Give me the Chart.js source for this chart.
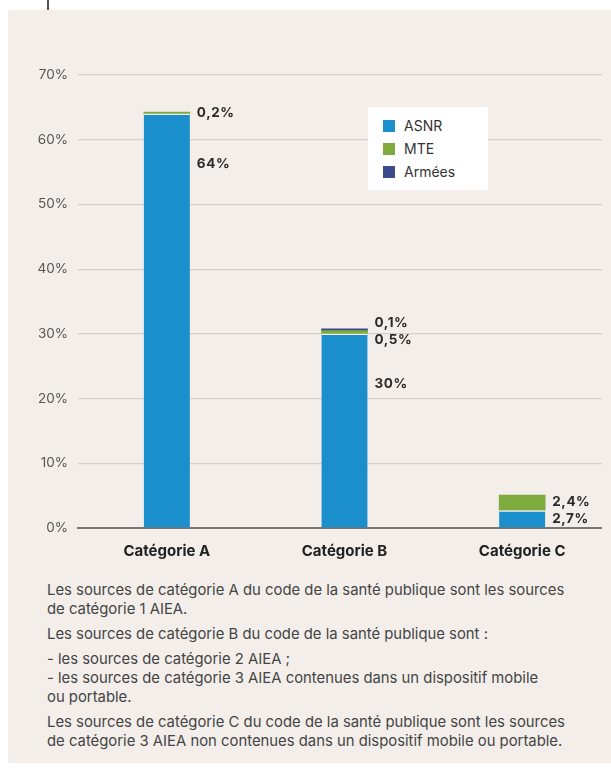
<!DOCTYPE html>
<html lang="fr">
<head>
<meta charset="utf-8">
<script src="https://cdn.jsdelivr.net/npm/chart.js@4"></script>
<style>
  html, body { margin: 0; padding: 0; background: #fff; width: 611px; height: 771px; overflow: hidden; font-family: Inter, "Noto Sans", sans-serif; }
  .topline { position: absolute; left: 47px; top: 0; width: 2px; height: 30px; background: #555; }
  .panel { position: absolute; left: 8px; top: 10px; width: 603px; height: 753px; background: #f3eeea; }
  .chart-box { position: absolute; left: 0; top: 0; width: 603px; height: 560px; }
  .legend { position: absolute; left: 360px; top: 97px; width: 120px; height: 83px; background: #fff; box-sizing: border-box; padding: 7px 0 0 15px; }
  .legend-item { display: flex; align-items: center; height: 23px; font-size: 14px; color: #333; }
  .legend-item span.sw { width: 12px; height: 12px; margin-right: 9px; }
  .notes { position: absolute; left: 39px; top: 571px; font-size: 14.85px; line-height: 19px; color: #444; white-space: nowrap; }
  .notes p { margin: 0 0 6px 0; }
</style>
</head>
<body>
<div class="topline"></div>
<div class="panel">
  <div class="chart-box"><canvas id="chart"></canvas></div>
  <div class="legend" id="legend"></div>
  <div class="notes">
    <p>Les sources de catégorie A du code de la santé publique sont les sources<br>de catégorie 1 AIEA.</p>
    <p>Les sources de catégorie B du code de la santé publique sont :</p>
    <p>- les sources de catégorie 2 AIEA ;<br>- les sources de catégorie 3 AIEA contenues dans un dispositif mobile<br>ou portable.</p>
    <p>Les sources de catégorie C du code de la santé publique sont les sources<br>de catégorie 3 AIEA non contenues dans un dispositif mobile ou portable.</p>
  </div>
</div>
<script>
const categories = ["Catégorie A", "Catégorie B", "Catégorie C"];
const seriesNames = ["ASNR", "MTE", "Armées"];
const asnr = [64, 30, 2.7];
const mte = [0.2, 0.5, 2.4];
const armees = [null, 0.1, null];

const BG = "#f3eeea";
const colors = ["#1b8fcc", "#7eaa3e", "#3d4a8b"];

function fmt(v) {
  return String(v).replace(".", ",") + "%";
}

// gridlines and axis line stop a bit before the right edge
const gridClip = {
  id: "gridClip",
  beforeDraw(chart) {
    const ctx = chart.ctx;
    ctx.save();
    ctx.beginPath();
    ctx.rect(0, 0, chart.width - 9, chart.height);
    ctx.clip();
  },
  beforeDatasetsDraw(chart) {
    chart.ctx.restore();
  },
};

// labels to the right of each stacked segment
const segmentLabels = {
  id: "segmentLabels",
  afterDatasetsDraw(chart) {
    const ctx = chart.ctx;
    ctx.save();
    ctx.font = "bold 13.5px Inter, sans-serif";
    ctx.fillStyle = "#2b2b2b";
    ctx.textBaseline = "middle";
    ctx.letterSpacing = "0.6px";
    categories.forEach((_, i) => {
      const items = [];
      chart.data.datasets.forEach((ds, d) => {
        const v = ds.data[i];
        if (v === null) return;
        const bar = chart.getDatasetMeta(d).data[i];
        const h = bar.base - bar.y;
        const y = h > 40 ? bar.y + 50 : (bar.y + bar.base) / 2;
        items.push({ text: fmt(v), x: bar.x + bar.width / 2 + 7, y });
      });
      items.sort((a, b) => a.y - b.y);
      for (let k = 1; k < items.length; k++) {
        const gap = items[k].y - items[k - 1].y;
        if (gap < 17) {
          const shift = (17 - gap) / 2;
          items[k - 1].y -= shift;
          items[k].y += shift;
        }
      }
      items.forEach((it) => ctx.fillText(it.text, it.x, it.y));
    });
    ctx.restore();
  },
};

const datasets = [asnr, mte, armees].map((data, d) => ({
  label: seriesNames[d],
  data,
  backgroundColor: colors[d],
  borderColor: BG,
  borderWidth: d === 0 ? { top: 1.5, left: 0, right: 0, bottom: 0 } : 0,
  minBarLength: d === 0 ? 0 : 1.8,
  barThickness: 46,
}));

new Chart(document.getElementById("chart"), {
  type: "bar",
  data: { labels: categories, datasets },
  options: {
    responsive: true,
    maintainAspectRatio: false,
    animation: false,
    layout: { padding: { top: 65, right: 0, bottom: 4, left: 0 } },
    plugins: { legend: { display: false }, tooltip: { enabled: false } },
    scales: {
      x: {
        stacked: true,
        grid: { display: false },
        border: { color: "#777", width: 2 },
        ticks: { color: "#222", font: { family: "Inter", size: 15, weight: "bold" }, padding: 6 },
      },
      y: {
        stacked: true,
        min: 0,
        max: 70,
        afterFit: (s) => { s.width = 70; },
        border: { display: false },
        grid: { color: "#d3cfcb", lineWidth: 1.2, drawTicks: false },
        ticks: {
          stepSize: 10,
          padding: 10,
          color: "#555",
          font: { family: "Inter", size: 13.5 },
          callback: (v) => v + "%",
        },
      },
    },
  },
  plugins: [gridClip, segmentLabels],
});

const legend = document.getElementById("legend");
seriesNames.forEach((name, d) => {
  const row = document.createElement("div");
  row.className = "legend-item";
  row.innerHTML = `<span class="sw" style="background:${colors[d]}"></span>${name}`;
  legend.appendChild(row);
});
</script>
</body>
</html>
